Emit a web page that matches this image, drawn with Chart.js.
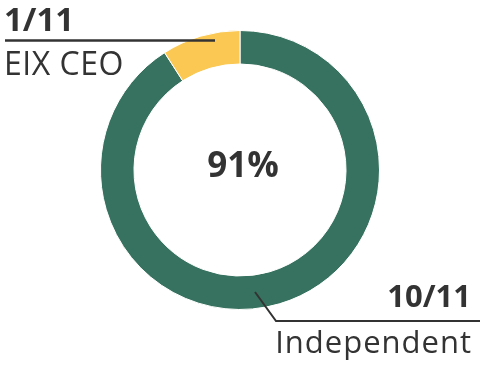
<!DOCTYPE html>
<html>
<head>
<meta charset="utf-8">
<script src="https://cdn.jsdelivr.net/npm/chart.js@4"></script>
<style>
  html, body { margin: 0; padding: 0; background: #fff; }
  #wrap { width: 480px; height: 368px; position: relative; }
</style>
</head>
<body>
<div id="wrap"><canvas id="boardChart" width="480" height="368"></canvas></div>
<script>
const categories = ["Independent", "EIX CEO"];
const counts = [10, 1];
const fractionLabels = ["10/11", "1/11"];
const centerLabel = "91%";
const colors = ["#36725f", "#fac853"];

const ink = "#333333";

// draws the center percentage and the two callouts
const calloutPlugin = {
    id: "callouts",
    afterDraw(chart) {
        const ctx = chart.ctx;
        const meta = chart.getDatasetMeta(0);
        const arc = meta.data[0];
        const cx = arc.x, cy = arc.y;

        ctx.save();
        ctx.fillStyle = ink;
        ctx.strokeStyle = ink;

        // center text
        ctx.font = "bold 35px 'Open Sans'";
        ctx.textAlign = "center";
        ctx.textBaseline = "middle";
        ctx.fillText(centerLabel, cx + 3, cy - 3);

        // EIX CEO callout (top left)
        ctx.lineWidth = 2.5;
        ctx.beginPath();
        ctx.moveTo(5, 40.5);
        ctx.lineTo(215, 40.5);
        ctx.stroke();

        ctx.textAlign = "left";
        ctx.textBaseline = "alphabetic";
        ctx.font = "bold 33px 'Open Sans'";
        ctx.fillText(fractionLabels[1], 4, 31);
        ctx.letterSpacing = "0.5px";
        ctx.font = "32px 'Open Sans'";
        ctx.fillText(categories[1], 4, 75);
        ctx.letterSpacing = "0px";

        // Independent callout (bottom right)
        ctx.lineWidth = 2;
        ctx.beginPath();
        ctx.moveTo(255, 292);
        ctx.lineTo(276, 321);
        ctx.lineTo(480, 321);
        ctx.stroke();

        ctx.textAlign = "right";
        ctx.font = "bold 31px 'Open Sans'";
        ctx.fillText(fractionLabels[0], 471, 307);
        ctx.letterSpacing = "1px";
        ctx.font = "31px 'Open Sans'";
        ctx.fillText(categories[0], 472, 353);
        ctx.letterSpacing = "0px";

        ctx.restore();
    }
};

new Chart(document.getElementById("boardChart").getContext("2d"), {
    type: "doughnut",
    data: {
        labels: categories,
        datasets: [{
            data: counts,
            backgroundColor: colors,
            borderColor: "#ffffff",
            borderWidth: 1
        }]
    },
    options: {
        responsive: false,
        animation: false,
        cutout: "76%",
        layout: { padding: { top: 30, bottom: 58, left: 0, right: 0 } },
        plugins: {
            legend: { display: false },
            tooltip: { enabled: false }
        }
    },
    plugins: [calloutPlugin]
});
</script>
</body>
</html>
